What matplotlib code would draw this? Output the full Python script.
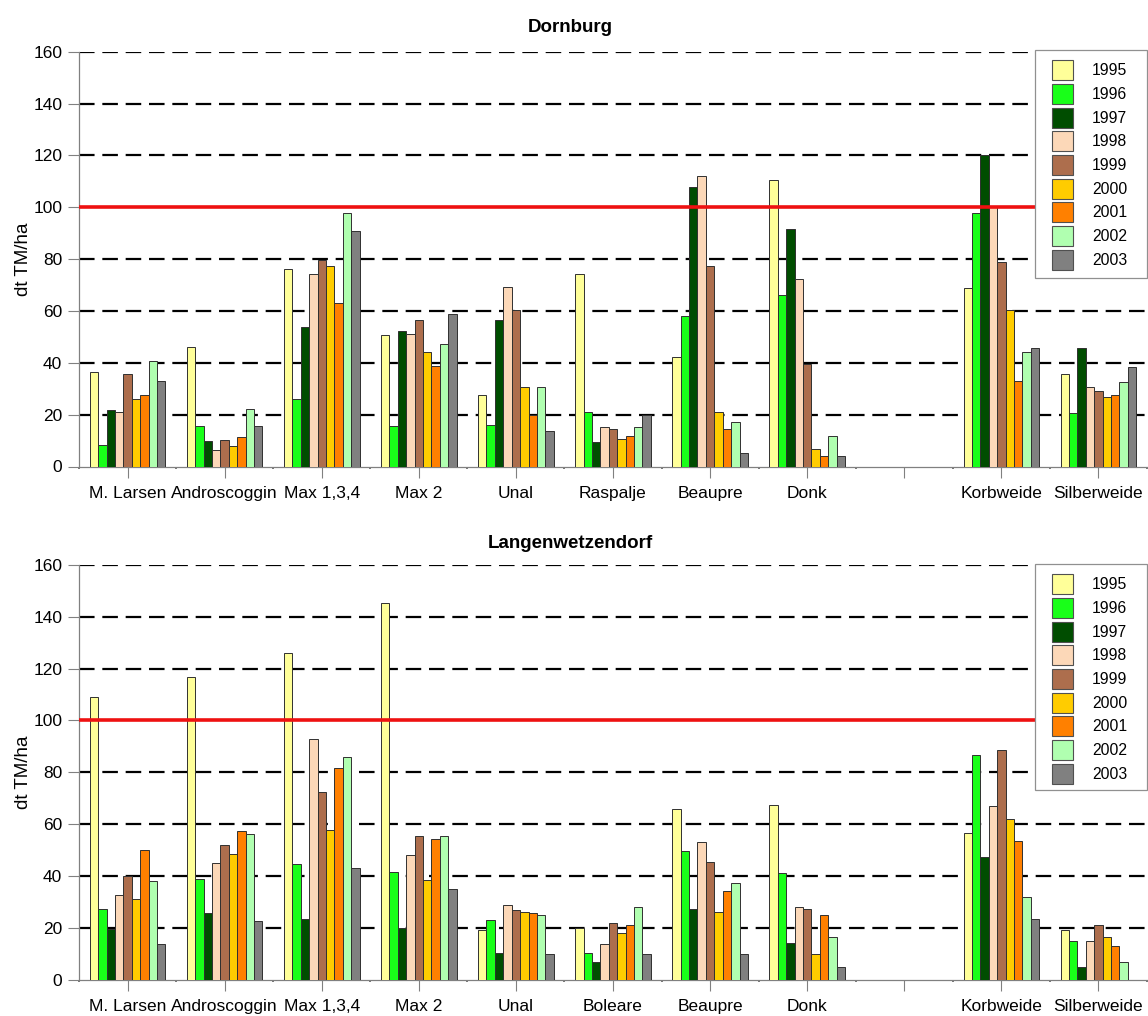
import numpy as np
import matplotlib
matplotlib.use("Agg")
import matplotlib.pyplot as plt
from matplotlib.patches import Patch, Rectangle

plt.rcParams["font.family"] = ["Liberation Sans", "DejaVu Sans"]

# ---- data -------------------------------------------------------------
years = ["1995", "1996", "1997", "1998", "1999", "2000", "2001", "2002", "2003"]
colors = ["#FFFF99", "#19FF19", "#004D00", "#FCD8B8", "#AD6E4D",
          "#FFCC00", "#FF8000", "#B0FFB0", "#808080"]

sites_dornburg = ["M. Larsen", "Androscoggin", "Max 1,3,4", "Max 2", "Unal",
                  "Raspalje", "Beaupre", "Donk", "", "Korbweide", "Silberweide"]
sites_langenwetzendorf = ["M. Larsen", "Androscoggin", "Max 1,3,4", "Max 2", "Unal",
                          "Boleare", "Beaupre", "Donk", "", "Korbweide", "Silberweide"]

nan = np.nan
# yield per year (dt TM/ha), one value per site
dornburg = {
    "1995": [36.4, 46.1, 76.1, 50.6, 27.4, 74.2, 42.4, 110.4, nan, 68.8, 35.6],
    "1996": [8.2, 15.6, 26.1, 15.6, 16.2, 21.2, 58.0, 66.1, nan, 97.6, 20.6],
    "1997": [21.9, 10.0, 53.7, 52.4, 56.6, 9.3, 107.7, 91.6, nan, 120.2, 45.6],
    "1998": [21.2, 6.3, 74.2, 51.3, 69.3, 15.4, 112.2, 72.4, nan, 100.3, 30.6],
    "1999": [35.6, 10.2, 79.8, 56.4, 60.4, 14.4, 77.5, 39.6, nan, 78.7, 29.0],
    "2000": [26.1, 8.1, 77.5, 44.3, 30.5, 10.7, 21.2, 6.9, nan, 60.4, 26.7],
    "2001": [27.4, 11.3, 63.1, 38.7, 19.9, 11.7, 14.4, 3.9, nan, 33.0, 27.5],
    "2002": [40.7, 22.0, 97.9, 47.4, 30.5, 15.4, 17.0, 11.7, nan, 44.3, 32.6],
    "2003": [33.0, 15.6, 91.0, 58.9, 13.8, 19.9, 5.1, 3.9, nan, 45.6, 38.2],
}
langenwetzendorf = {
    "1995": [109.1, 116.7, 126.1, 145.3, 19.4, 19.9, 65.7, 67.4, nan, 56.7, 19.4],
    "1996": [27.5, 39.0, 44.5, 41.7, 23.2, 10.5, 49.8, 41.2, nan, 86.8, 15.1],
    "1997": [19.8, 25.7, 23.6, 19.9, 10.5, 6.9, 27.3, 14.4, nan, 47.4, 5.0],
    "1998": [32.6, 44.9, 92.9, 48.1, 28.8, 13.7, 53.0, 28.1, nan, 66.9, 15.1],
    "1999": [40.1, 51.9, 72.3, 55.5, 27.0, 22.1, 45.6, 27.3, nan, 88.7, 21.3],
    "2000": [31.3, 48.7, 57.9, 38.6, 26.2, 18.0, 26.1, 10.1, nan, 61.9, 16.4],
    "2001": [49.9, 57.5, 81.6, 54.3, 25.8, 21.2, 34.4, 25.0, nan, 53.5, 13.2],
    "2002": [38.1, 56.2, 86.0, 55.5, 25.0, 28.1, 37.5, 16.4, nan, 32.0, 7.1],
    "2003": [13.9, 22.6, 43.3, 35.2, 10.1, 10.1, 10.1, 5.0, nan, 23.6, nan],
}
threshold = 100
yticks = [0, 20, 40, 60, 80, 100, 120, 140, 160]

# ---- figure -------------------------------------------------------------
W, H = 1148, 1016
fig = plt.figure(figsize=(W / 100, H / 100), dpi=100)

ax_left = 79 / W
ax_width = 1068 / W
ax_top = fig.add_axes([ax_left, (H - 466.5) / H, ax_width, 414.8 / H])
ax_bot = fig.add_axes([ax_left, (H - 980.0) / H, ax_width, 415.3 / H])

bar_w = 0.0866
n = len(years)


def draw_panel(ax, sites, data, title, title_y, legend_top, legend_bottom):
    x = np.arange(len(sites))
    for i, (yr, col) in enumerate(zip(years, colors)):
        offs = (i - (n - 1) / 2) * bar_w
        ax.bar(x + offs, data[yr], width=bar_w, color=col,
               edgecolor="#303030", linewidth=0.7, zorder=3)

    ax.set_xlim(-0.5, len(sites) - 0.5)
    ax.set_ylim(0, 160)
    ax.set_yticks(yticks)
    for v in yticks[1:]:
        if v == threshold:
            continue
        ax.axhline(v, color="black", lw=1.6, linestyle=(0, (7, 3.5)), zorder=1)
    ax.axhline(threshold, color="#EE1111", lw=2.6, zorder=4)

    ax.set_xticks(x)
    ax.set_xticklabels(sites, fontsize=12.5)
    ax.set_xticks(np.arange(len(sites) + 1) - 0.5, minor=True)
    ax.tick_params(axis="x", which="major", length=8, width=0.8,
                   color="#808080", pad=6)
    ax.tick_params(axis="x", which="minor", length=1.5, width=1.2,
                   color="#606060")
    ax.tick_params(axis="y", length=8, width=0.8, color="#808080",
                   labelsize=12.5, pad=4)

    for s in ("top", "right"):
        ax.spines[s].set_visible(False)
    for s in ("left", "bottom"):
        ax.spines[s].set_color("#808080")
        ax.spines[s].set_linewidth(0.9)

    ax.set_ylabel("dt TM/ha", fontsize=13.5, labelpad=1)
    fig.text(570 / W, 1 - title_y / H, title, ha="center", va="center",
             fontsize=13.5, fontweight="bold")

    # legend box (opaque, covers the grid behind it)
    box = Rectangle((1035 / W, 1 - legend_bottom / H),
                    (1147 - 1035) / W, (legend_bottom - legend_top) / H,
                    transform=fig.transFigure, facecolor="white",
                    edgecolor="#909090", linewidth=0.9, zorder=3)
    fig.add_artist(box)

    handles = [Patch(facecolor=c, edgecolor="#505050", linewidth=0.8)
               for c in colors]
    leg = fig.legend(handles, years, loc="upper left",
                     bbox_to_anchor=(1044.5 / W, 1 - (legend_top + 2.5) / H),
                     bbox_transform=fig.transFigure,
                     fontsize=11.3, frameon=False,
                     handlelength=1.34, handleheight=1.58, handletextpad=1.2,
                     labelspacing=0.235, borderpad=0.5, borderaxespad=0)
    leg.set_zorder(5)
    return leg


draw_panel(ax_top, sites_dornburg, dornburg, "Dornburg", 27, 50, 278)
draw_panel(ax_bot, sites_langenwetzendorf, langenwetzendorf,
           "Langenwetzendorf", 543, 564, 790)

fig.savefig("out.png", dpi=100)
